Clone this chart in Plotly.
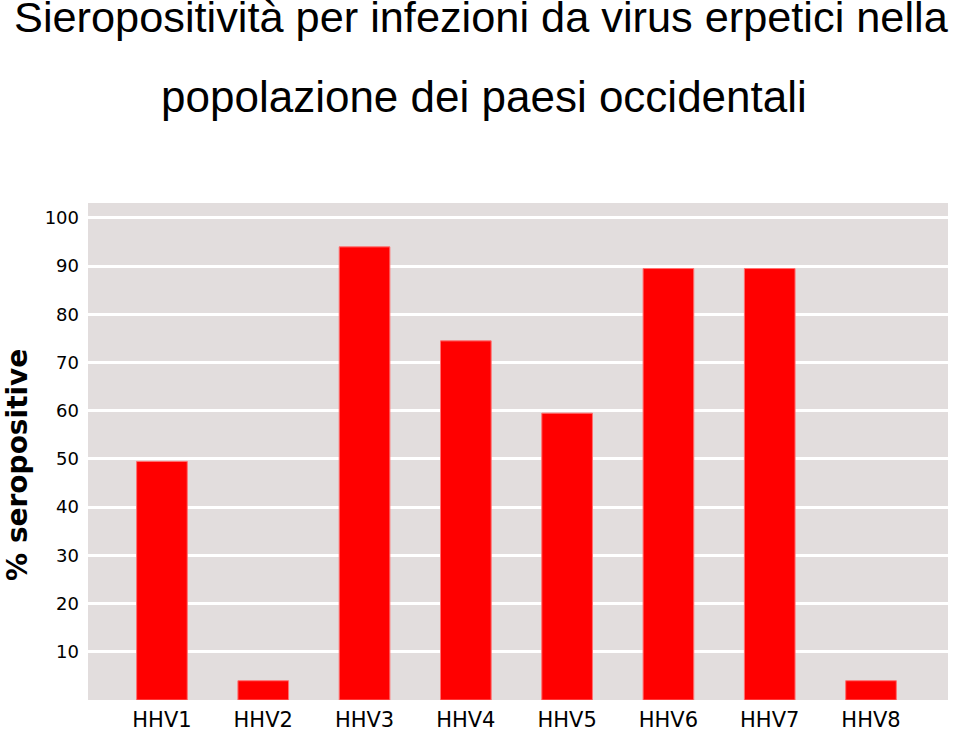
import plotly.graph_objects as go

# data
virus = ["HHV1", "HHV2", "HHV3", "HHV4", "HHV5", "HHV6", "HHV7", "HHV8"]
seropos = [49.5, 4, 94, 74.5, 59.5, 89.5, 89.5, 4]
y_ticks = [10, 20, 30, 40, 50, 60, 70, 80, 90, 100]

fig = go.Figure()
fig.add_trace(go.Bar(
    x=virus, y=seropos, width=0.5,
    marker=dict(color="#ff0000", line=dict(color="#ff7070", width=1)),
))

fig.update_layout(
    width=959, height=731,
    margin=dict(l=88, r=11, t=203, b=31),
    paper_bgcolor="white", plot_bgcolor="#e2dddd",
    showlegend=False,
    font=dict(family="DejaVu Sans", color="black"),
)
fig.update_xaxes(
    range=[-0.73, 7.76], showgrid=False, zeroline=False, automargin=False,
    tickfont=dict(size=21), ticks="", ticklabelstandoff=5,
)
fig.update_yaxes(
    range=[0, 103.1], tickvals=y_ticks, showgrid=True, gridcolor="white",
    gridwidth=3, zeroline=False, automargin=False, tickfont=dict(size=18),
    ticks="", ticklabelstandoff=8,
)

# titles
fig.add_annotation(text="Sieropositività per infezioni da virus erpetici nella",
                   xref="paper", yref="paper", x=0.457, y=1.375, showarrow=False,
                   xanchor="center", yanchor="middle",
                   font=dict(size=43.3, family="Liberation Sans, Arial"))
fig.add_annotation(text="popolazione dei paesi occidentali",
                   xref="paper", yref="paper", x=0.461, y=1.215, showarrow=False,
                   xanchor="center", yanchor="middle",
                   font=dict(size=44, family="Liberation Sans, Arial"))
fig.add_annotation(text="<b>% seropositive</b>", textangle=-90,
                   xref="paper", yref="paper", x=-0.0814, y=0.473, showarrow=False,
                   xanchor="center", yanchor="middle", font=dict(size=28))

fig.write_html("out.html", config={"displayModeBar": False},
               post_script="document.body.style.margin='0';")
